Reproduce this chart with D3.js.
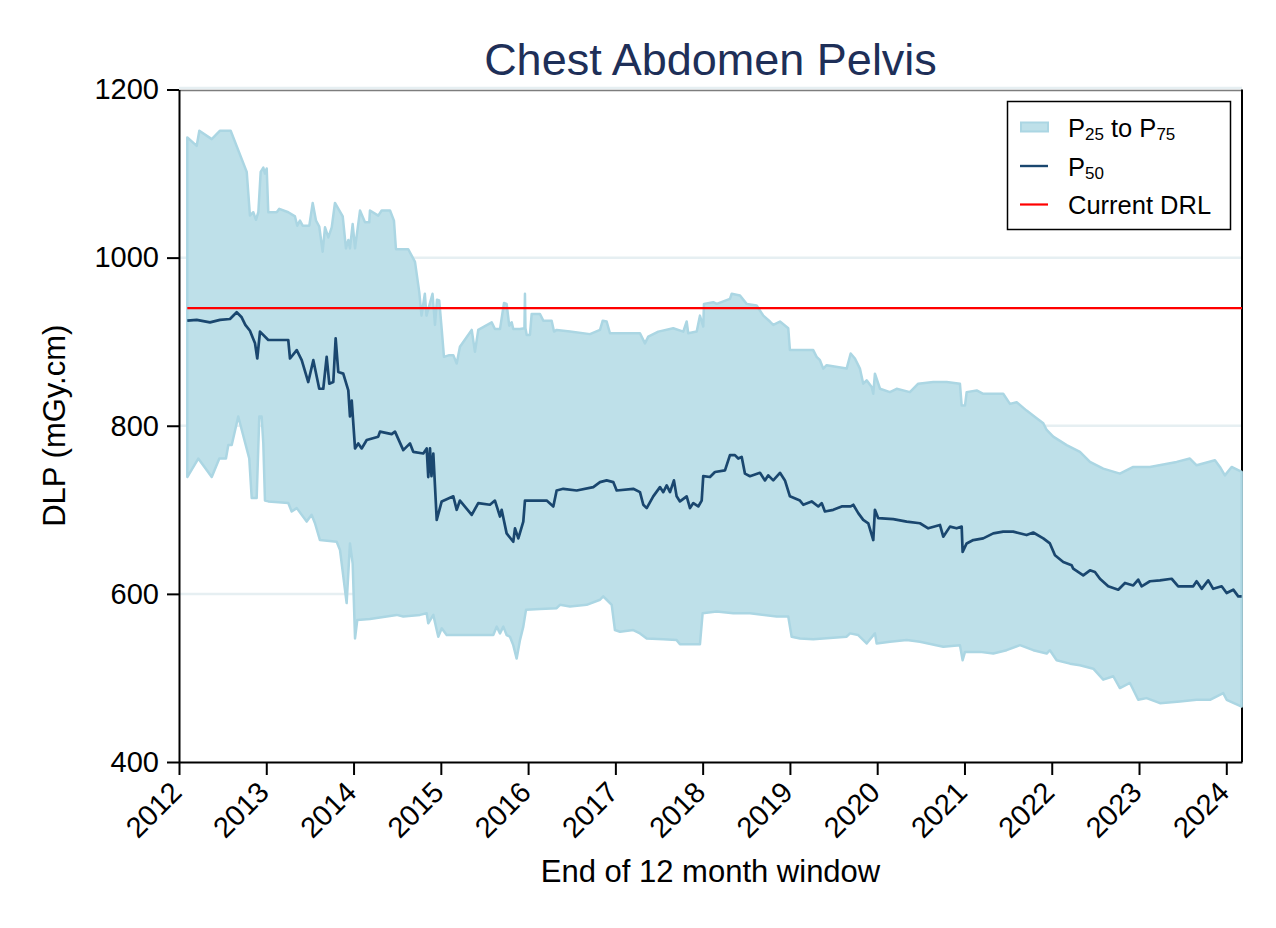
<!DOCTYPE html>
<html>
<head>
<meta charset="utf-8">
<script src="https://cdn.jsdelivr.net/npm/d3@7"></script>
<style>
  html, body { margin: 0; padding: 0; background: #ffffff; }
  svg { display: block; font-family: "Liberation Sans", Arial, sans-serif; }
</style>
</head>
<body>
<svg id="chart" width="1276" height="928"></svg>
<script>
// ---- Data (decimal year, DLP mGy.cm) ----
const p75 = [[2012.095,1143],[2012.203,1133],[2012.233,1151],[2012.375,1141],[2012.470,1151],[2012.592,1151],[2012.776,1102],[2012.813,1050],[2012.851,1054],[2012.882,1045],[2012.909,1054],[2012.936,1102],[2012.966,1107],[2012.985,1100],[2013.005,1106],[2013.023,1054],[2013.119,1054],[2013.149,1058],[2013.252,1054],[2013.329,1049],[2013.355,1038],[2013.386,1044],[2013.417,1038],[2013.493,1038],[2013.532,1065],[2013.570,1044],[2013.607,1037],[2013.646,1007],[2013.673,1036],[2013.711,1024],[2013.750,1036],[2013.787,1065],[2013.876,1049],[2013.913,1011],[2013.940,1021],[2013.959,1011],[2013.990,1040],[2014.017,1011],[2014.074,1056],[2014.131,1042],[2014.180,1042],[2014.188,1056],[2014.283,1050],[2014.322,1056],[2014.418,1056],[2014.463,1044],[2014.486,1010],[2014.627,1010],[2014.704,995],[2014.753,959],[2014.779,931],[2014.817,957],[2014.836,931],[2014.905,957],[2014.933,920],[2014.956,950],[2014.982,949],[2015.010,915],[2015.036,882],[2015.097,884],[2015.143,884],[2015.182,874],[2015.219,894],[2015.354,914],[2015.391,888],[2015.429,914],[2015.583,923],[2015.620,915],[2015.678,915],[2015.724,946],[2015.754,945],[2015.784,919],[2015.812,923],[2015.830,915],[2015.907,915],[2015.958,916],[2015.964,957],[2015.970,916],[2015.984,908],[2016.021,908],[2016.041,933],[2016.136,933],[2016.174,925],[2016.270,925],[2016.297,912],[2016.327,914],[2016.480,912],[2016.709,909],[2016.824,914],[2016.855,925],[2016.900,924],[2016.938,910],[2017.282,910],[2017.339,898],[2017.377,906],[2017.492,912],[2017.663,916],[2017.778,912],[2017.817,924],[2017.835,910],[2017.932,912],[2017.969,931],[2018.007,918],[2018.015,945],[2018.122,947],[2018.161,945],[2018.313,951],[2018.333,957],[2018.428,955],[2018.504,945],[2018.619,943],[2018.695,931],[2018.771,924],[2018.809,920],[2018.886,924],[2018.981,916],[2019.000,890],[2019.267,890],[2019.306,882],[2019.344,878],[2019.382,868],[2019.421,872],[2019.650,868],[2019.696,886],[2019.745,880],[2019.802,868],[2019.840,850],[2019.879,854],[2019.937,846],[2019.955,838],[2019.974,862],[2020.032,844],[2020.146,840],[2020.223,844],[2020.375,840],[2020.470,850],[2020.642,852],[2020.796,852],[2020.948,850],[2020.968,824],[2021.006,824],[2021.025,840],[2021.140,842],[2021.215,838],[2021.444,838],[2021.521,826],[2021.598,828],[2021.712,818],[2021.827,809],[2021.903,803],[2021.942,795],[2022.017,787],[2022.171,777],[2022.323,769],[2022.438,757],[2022.590,749],[2022.781,743],[2022.934,751],[2023.125,751],[2023.431,757],[2023.583,761],[2023.660,753],[2023.870,759],[2023.927,751],[2023.984,741],[2024.061,751],[2024.176,745]];

const p50 = [[2012.095,925],[2012.203,926],[2012.355,923],[2012.470,926],[2012.584,927],[2012.661,935],[2012.718,929],[2012.760,920],[2012.813,913],[2012.871,898],[2012.897,880],[2012.928,912],[2013.023,902],[2013.119,902],[2013.252,902],[2013.272,880],[2013.349,890],[2013.406,878],[2013.481,852],[2013.539,878],[2013.607,844],[2013.653,844],[2013.692,882],[2013.722,850],[2013.768,852],[2013.795,904],[2013.825,864],[2013.882,862],[2013.940,842],[2013.959,811],[2013.979,830],[2014.017,773],[2014.054,779],[2014.093,773],[2014.151,783],[2014.283,787],[2014.303,793],[2014.437,790],[2014.475,793],[2014.570,771],[2014.647,779],[2014.684,769],[2014.799,767],[2014.838,773],[2014.856,739],[2014.876,773],[2014.893,740],[2014.914,767],[2014.953,688],[2015.010,710],[2015.143,716],[2015.182,700],[2015.219,711],[2015.354,694],[2015.429,708],[2015.563,706],[2015.620,711],[2015.678,692],[2015.697,700],[2015.754,672],[2015.830,662],[2015.850,678],[2015.888,666],[2015.945,686],[2015.964,711],[2016.059,711],[2016.213,711],[2016.289,704],[2016.327,723],[2016.403,725],[2016.557,723],[2016.747,727],[2016.824,733],[2016.900,735],[2016.976,733],[2017.015,723],[2017.205,725],[2017.282,721],[2017.320,706],[2017.359,702],[2017.434,716],[2017.511,727],[2017.549,721],[2017.588,729],[2017.626,721],[2017.671,735],[2017.702,716],[2017.740,710],[2017.817,716],[2017.855,702],[2017.893,708],[2017.950,704],[2017.989,711],[2018.007,740],[2018.084,739],[2018.141,745],[2018.256,747],[2018.313,765],[2018.370,765],[2018.408,761],[2018.447,763],[2018.485,743],[2018.542,740],[2018.657,744],[2018.714,735],[2018.752,741],[2018.809,735],[2018.886,744],[2018.943,735],[2019.000,716],[2019.115,711],[2019.153,706],[2019.249,710],[2019.325,704],[2019.364,708],[2019.401,698],[2019.497,700],[2019.593,704],[2019.696,704],[2019.726,706],[2019.783,696],[2019.840,688],[2019.898,684],[2019.955,664],[2019.974,700],[2020.012,690],[2020.184,689],[2020.338,686],[2020.490,684],[2020.585,678],[2020.719,682],[2020.757,668],[2020.834,680],[2020.910,678],[2020.968,680],[2020.979,650],[2021.025,660],[2021.101,664],[2021.215,666],[2021.330,672],[2021.444,674],[2021.559,674],[2021.712,670],[2021.788,673],[2021.903,666],[2021.979,660],[2022.037,646],[2022.132,638],[2022.228,634],[2022.246,630],[2022.361,622],[2022.438,628],[2022.495,626],[2022.552,618],[2022.647,609],[2022.762,605],[2022.839,613],[2022.934,610],[2022.991,617],[2023.030,609],[2023.125,615],[2023.240,616],[2023.374,618],[2023.449,609],[2023.621,609],[2023.660,615],[2023.718,606],[2023.793,616],[2023.850,606],[2023.947,609],[2024.004,601],[2024.080,605],[2024.137,597],[2024.176,597]];

const p25 = [[2012.095,739],[2012.221,761],[2012.375,739],[2012.462,761],[2012.538,761],[2012.565,777],[2012.604,777],[2012.679,811],[2012.805,761],[2012.833,714],[2012.890,714],[2012.920,811],[2012.947,811],[2012.966,779],[2012.985,711],[2013.023,710],[2013.252,708],[2013.291,698],[2013.349,702],[2013.463,686],[2013.520,694],[2013.558,684],[2013.615,664],[2013.807,662],[2013.845,652],[2013.921,589],[2013.959,660],[2013.990,636],[2014.017,547],[2014.043,569],[2014.188,570],[2014.494,575],[2014.570,573],[2014.761,575],[2014.838,577],[2014.856,565],[2014.914,575],[2014.953,557],[2014.971,549],[2015.010,559],[2015.067,551],[2015.334,551],[2015.601,551],[2015.640,561],[2015.678,553],[2015.716,561],[2015.754,551],[2015.792,549],[2015.830,539],[2015.869,523],[2015.907,545],[2015.945,561],[2015.976,581],[2016.136,582],[2016.327,583],[2016.365,587],[2016.480,585],[2016.671,587],[2016.824,593],[2016.861,597],[2016.900,593],[2016.958,587],[2016.995,557],[2017.053,555],[2017.205,557],[2017.282,553],[2017.359,547],[2017.549,546],[2017.702,545],[2017.740,540],[2017.969,540],[2018.000,577],[2018.161,579],[2018.351,577],[2018.542,577],[2018.848,573],[2018.981,573],[2019.020,549],[2019.115,547],[2019.267,546],[2019.650,549],[2019.688,553],[2019.783,551],[2019.879,541],[2019.974,553],[2019.994,541],[2020.146,543],[2020.338,545],[2020.490,543],[2020.757,537],[2020.948,539],[2020.979,521],[2021.006,531],[2021.177,531],[2021.330,529],[2021.483,533],[2021.636,539],[2021.788,533],[2021.942,529],[2021.979,533],[2022.056,521],[2022.209,517],[2022.323,515],[2022.476,511],[2022.590,498],[2022.705,502],[2022.781,488],[2022.896,494],[2022.991,474],[2023.087,476],[2023.240,470],[2023.469,472],[2023.660,474],[2023.813,474],[2023.965,482],[2024.004,474],[2024.176,466]];

const drlValue = 940;
const yTicks = [400, 600, 800, 1000, 1200];
const xTicks = [2012, 2013, 2014, 2015, 2016, 2017, 2018, 2019, 2020, 2021, 2022, 2023, 2024];
const titleText = "Chest Abdomen Pelvis";
const yLabel = "DLP (mGy.cm)";
const xLabel = "End of 12 month window";

// ---- Layout ----
const svg = d3.select("#chart");
const L = 179, R = 1242, T = 89.5, B = 762;
const x = d3.scaleLinear().domain([2012, 2024.18]).range([L, R]);
const y = d3.scaleLinear().domain([400, 1200]).range([B, T]);

const colBand = "#bee0e9", colBandEdge = "#abd6e3", colMed = "#1a476f", colDrl = "#ff0000";

svg.append("rect").attr("width", 1276).attr("height", 928).attr("fill", "#fff");

// gridlines
svg.append("g").selectAll("line").data(yTicks.filter(d => d > 400)).join("line")
  .attr("x1", L).attr("x2", R).attr("y1", d => y(d) - (d === 1200 ? 1.5 : 0)).attr("y2", d => y(d) - (d === 1200 ? 1.5 : 0))
  .attr("stroke", "#e6eff2").attr("stroke-width", 2.5);

// frame (top & right)
svg.append("line").attr("x1", L).attr("x2", R).attr("y1", T + 1).attr("y2", T + 1)
  .attr("stroke", "#7d7d7d").attr("stroke-width", 1.3);
svg.append("line").attr("x1", R).attr("x2", R).attr("y1", T).attr("y2", B)
  .attr("stroke", "#000").attr("stroke-width", 2);

// band
const line = d3.line().x(d => x(d[0])).y(d => y(d[1]));
const bandPts = p75.concat(p25.slice().reverse());
svg.append("path").attr("d", line(bandPts) + "Z")
  .attr("fill", colBand).attr("stroke", colBandEdge).attr("stroke-width", 2.5)
  .attr("stroke-linejoin", "round");

// median
svg.append("path").attr("d", line(p50)).attr("fill", "none")
  .attr("stroke", colMed).attr("stroke-width", 2.7).attr("stroke-linejoin", "round");

// DRL
svg.append("line").attr("x1", x(p50[0][0])).attr("x2", R)
  .attr("y1", y(drlValue)).attr("y2", y(drlValue))
  .attr("stroke", colDrl).attr("stroke-width", 2.2);

// axes
const yAxis = svg.append("g").attr("transform", `translate(${L},0)`)
  .call(d3.axisLeft(y).tickValues(yTicks).tickSize(12).tickSizeOuter(0).tickPadding(8).tickFormat(d3.format("d")));
yAxis.select(".domain").attr("stroke", "#000").attr("stroke-width", 2);
yAxis.selectAll(".tick line").attr("stroke", "#000").attr("stroke-width", 2);
yAxis.selectAll(".tick text").attr("font-size", 29).attr("fill", "#000")
  .attr("font-family", "Liberation Sans, Arial, sans-serif");

const xAxis = svg.append("g").attr("transform", `translate(0,${B})`)
  .call(d3.axisBottom(x).tickValues(xTicks).tickSize(13).tickSizeOuter(0).tickFormat(d3.format("d")));
xAxis.select(".domain").attr("stroke", "#000").attr("stroke-width", 2);
xAxis.selectAll(".tick line").attr("stroke", "#000").attr("stroke-width", 2);
xAxis.selectAll(".tick text").attr("font-size", 29).attr("fill", "#000")
  .attr("font-family", "Liberation Sans, Arial, sans-serif")
  .attr("x", 0).attr("y", 0).attr("dy", 0)
  .attr("text-anchor", "end")
  .attr("transform", "translate(4,32) rotate(-45)");

// title & labels
svg.append("text").attr("x", (L + R) / 2).attr("y", 75).attr("text-anchor", "middle")
  .attr("font-size", 45).attr("fill", "#1e2f58").text(titleText);
svg.append("text").attr("x", (L + R) / 2).attr("y", 882).attr("text-anchor", "middle")
  .attr("font-size", 31).attr("fill", "#000").text(xLabel);
svg.append("text").attr("transform", `translate(65,${(T + B) / 2}) rotate(-90)`).attr("text-anchor", "middle")
  .attr("font-size", 31).attr("fill", "#000").text(yLabel);

// legend
const lg = svg.append("g");
lg.append("rect").attr("x", 1007.5).attr("y", 101.5).attr("width", 223).attr("height", 128)
  .attr("fill", "#fff").attr("stroke", "#000").attr("stroke-width", 1.5);
lg.append("rect").attr("x", 1021).attr("y", 122.5).attr("width", 27).attr("height", 9)
  .attr("fill", colBand).attr("stroke", colBandEdge).attr("stroke-width", 2);
lg.append("line").attr("x1", 1020).attr("x2", 1048).attr("y1", 166).attr("y2", 166)
  .attr("stroke", colMed).attr("stroke-width", 2.4);
lg.append("line").attr("x1", 1020).attr("x2", 1048).attr("y1", 204.5).attr("y2", 204.5)
  .attr("stroke", colDrl).attr("stroke-width", 2.2);

const fs = 25.5, sub = 17;
const t1 = lg.append("text").attr("x", 1068).attr("y", 137).attr("font-size", fs).attr("fill", "#000");
t1.append("tspan").text("P");
t1.append("tspan").attr("font-size", sub).attr("dy", 3).text("25");
t1.append("tspan").attr("dy", -3).text(" to P");
t1.append("tspan").attr("font-size", sub).attr("dy", 3).text("75");
const t2 = lg.append("text").attr("x", 1068).attr("y", 175.5).attr("font-size", fs).attr("fill", "#000");
t2.append("tspan").text("P");
t2.append("tspan").attr("font-size", sub).attr("dy", 3).text("50");
lg.append("text").attr("x", 1068).attr("y", 214).attr("font-size", fs).attr("fill", "#000").text("Current DRL");
</script>
</body>
</html>
